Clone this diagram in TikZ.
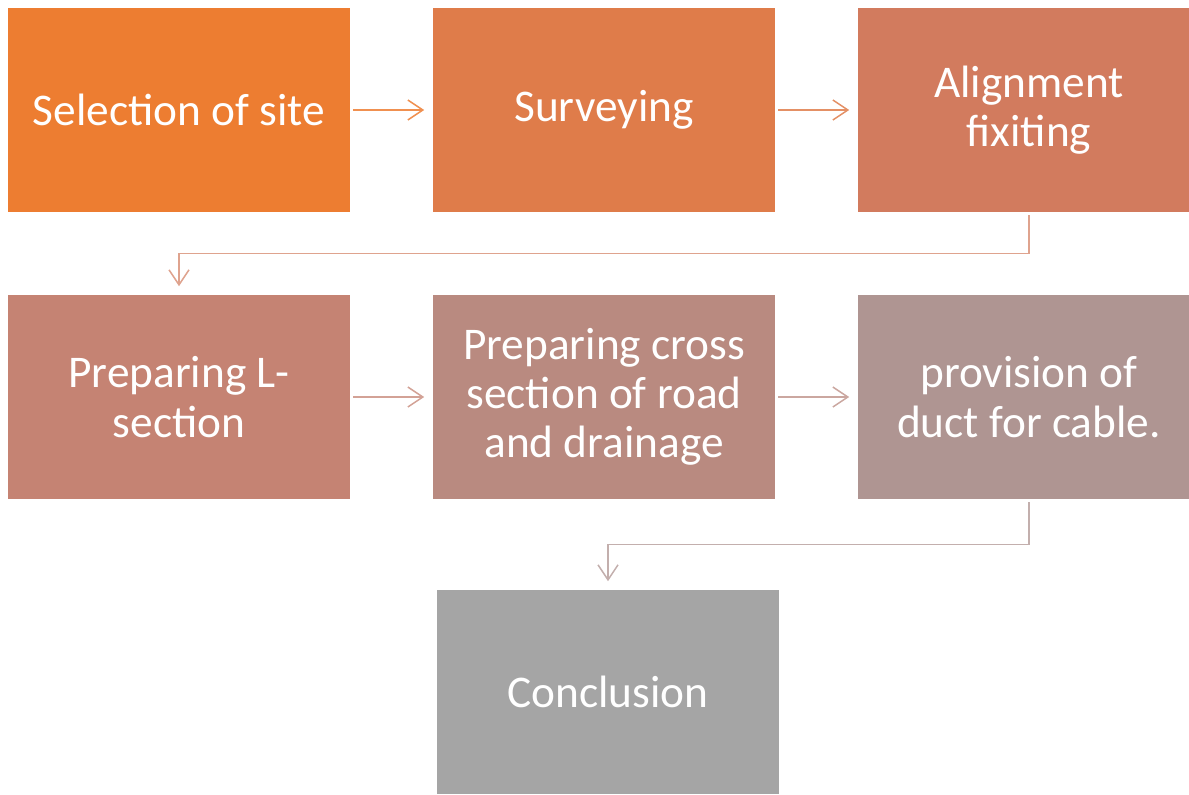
\documentclass[tikz,border=0pt]{standalone}
\usepackage{fontspec}
\setmainfont{Carlito}
\usetikzlibrary{arrows.meta}
\definecolor{cone}{HTML}{ED7D31}
\definecolor{ctwo}{HTML}{DF7C4A}
\definecolor{cthree}{HTML}{D27B5E}
\definecolor{cfour}{HTML}{C58373}
\definecolor{cfive}{HTML}{B98A80}
\definecolor{csix}{HTML}{AF9592}
\definecolor{cseven}{HTML}{A5A5A5}
\tikzset{
  stepbox/.style={fill=#1, draw=none, text=white, minimum width=6.84cm,
    minimum height=4.08cm, align=center, inner sep=0pt,
    font=\fontsize{25.8pt}{28pt}\selectfont},
  flow/.style={draw=#1, line width=0.85pt,
    -{Straight Barb[length=0.3cm,width=0.4cm,line width=0.85pt]},
    shorten <=0.06cm, shorten >=0.17cm}
}
\begin{document}
\begin{tikzpicture}[x=0.02cm,y=-0.02cm]
\useasboundingbox (0,0) rectangle (1189,794);
\fill[white] (0,0) rectangle (1189,794);
% first row
\node[stepbox=cone] (site) at (179,110) {Selection of site};
\node[stepbox=ctwo] (survey) at (604,110) {Surveying};
\node[stepbox=cthree] (align) at (1029,110) {Alignment\\fixiting};
% second row
\node[stepbox=cfour] (lsec) at (179,397) {Preparing L-\\section};
\node[stepbox=cfive] (xsec) at (604,397) {Preparing cross\\section of road\\and drainage};
\node[stepbox=csix] (duct) at (1029,397) {provision of\\duct for cable.};
% last one
\node[stepbox=cseven] (concl) at (608,692) {Conclusion};

\draw[flow=cone!85!white] (site) -- (survey);
\draw[flow=ctwo!85!white] (survey) -- (align);
\draw[flow=cthree!70!white] (align.south) -- ++(0,41) -| (lsec.north);
\draw[flow=cfour!75!white] (lsec) -- (xsec);
\draw[flow=cfive!75!white] (xsec) -- (duct);
\draw[flow=csix!75!white] (duct.south) -- ++(0,45) -| (concl.north);
\end{tikzpicture}
\end{document}
